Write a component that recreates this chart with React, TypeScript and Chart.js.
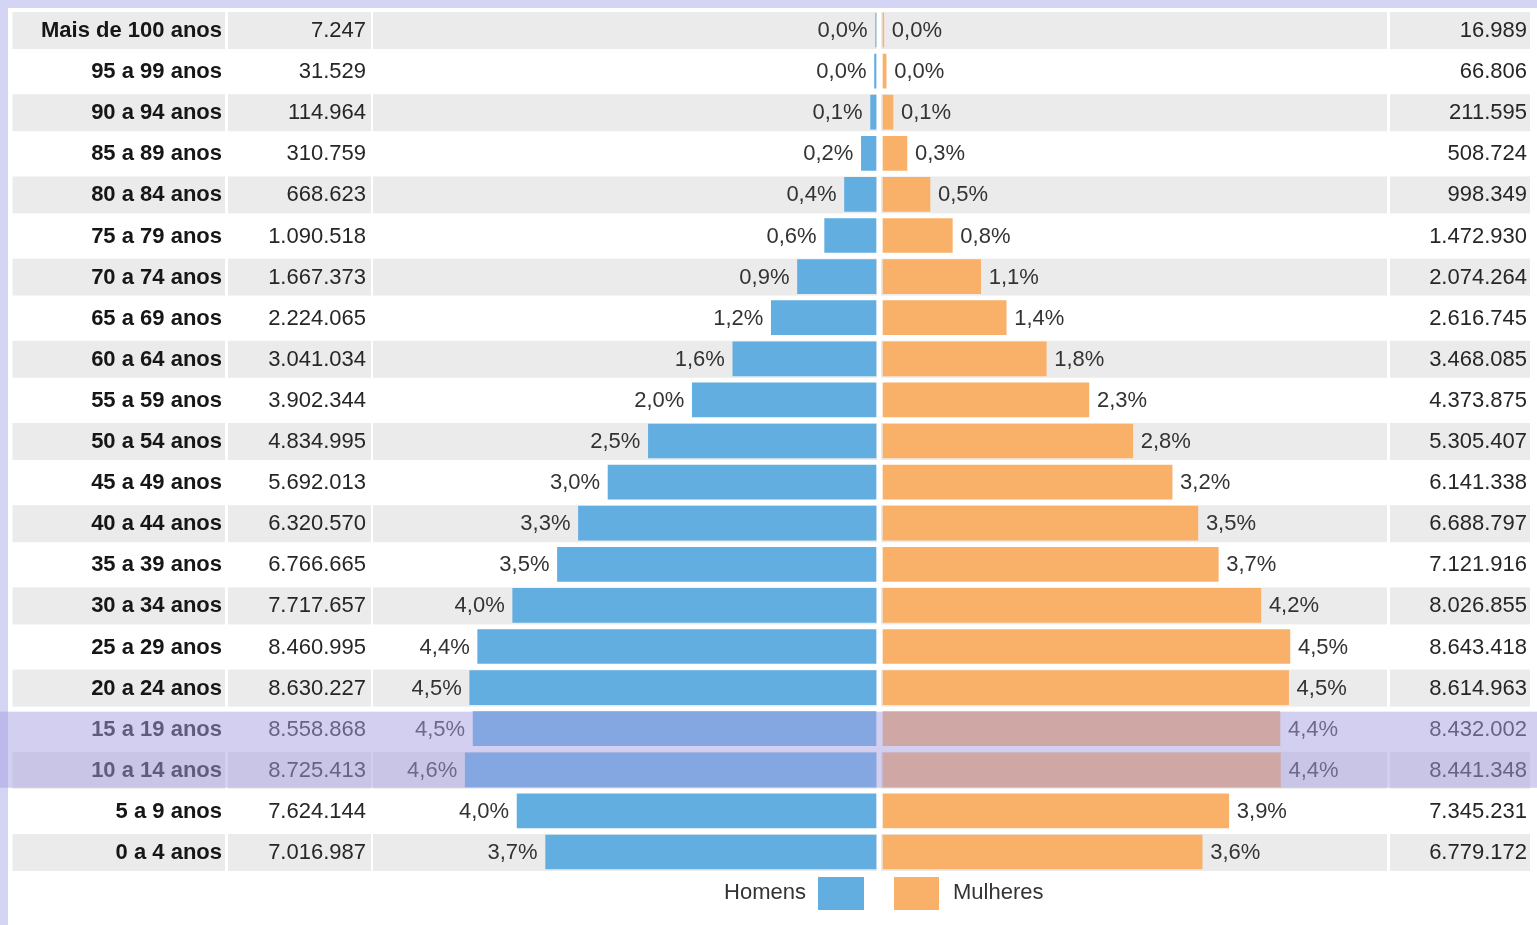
import React, { useEffect, useRef } from "react";
import { Chart, registerables } from "chart.js";

Chart.register(...registerables);

// ---------------- DATA ----------------
const ageGroups = [
  "Mais de 100 anos",
  "95 a 99 anos",
  "90 a 94 anos",
  "85 a 89 anos",
  "80 a 84 anos",
  "75 a 79 anos",
  "70 a 74 anos",
  "65 a 69 anos",
  "60 a 64 anos",
  "55 a 59 anos",
  "50 a 54 anos",
  "45 a 49 anos",
  "40 a 44 anos",
  "35 a 39 anos",
  "30 a 34 anos",
  "25 a 29 anos",
  "20 a 24 anos",
  "15 a 19 anos",
  "10 a 14 anos",
  "5 a 9 anos",
  "0 a 4 anos",
];

const menPopulation = [
  7247, 31529, 114964, 310759, 668623, 1090518, 1667373, 2224065, 3041034,
  3902344, 4834995, 5692013, 6320570, 6766665, 7717657, 8460995, 8630227,
  8558868, 8725413, 7624144, 7016987,
];

const womenPopulation = [
  16989, 66806, 211595, 508724, 998349, 1472930, 2074264, 2616745, 3468085,
  4373875, 5305407, 6141338, 6688797, 7121916, 8026855, 8643418, 8614963,
  8432002, 8441348, 7345231, 6779172,
];

const menPercent = [
  0.0038, 0.0165, 0.0603, 0.1629, 0.3505, 0.5717, 0.8741, 1.1659, 1.5942,
  2.0457, 2.5347, 2.9839, 3.3135, 3.5473, 4.0458, 4.4355, 4.5243, 4.4868,
  4.5741, 3.9968, 3.6785,
];

const womenPercent = [
  0.0089, 0.035, 0.1109, 0.2667, 0.5234, 0.7722, 1.0874, 1.3718, 1.8181,
  2.293, 2.7813, 3.2195, 3.5065, 3.7336, 4.208, 4.5312, 4.5163, 4.4204,
  4.4253, 3.8506, 3.5539,
];

const highlightedGroups = ["15 a 19 anos", "10 a 14 anos"];
const seriesLabels = ["Homens", "Mulheres"];

// ---------------- LAYOUT / STYLE ----------------
const W = 1537;
const H = 925;
const PAGE_MARGIN = 8;
const AREA_LEFT = 373;
const AREA_RIGHT = 1387;
const AREA_TOP = 9.45;
const AREA_BOTTOM = 872.55;
const MEN_ZERO = 876;
const WOMEN_ZERO = 883;
const PX_PER_PCT = 89.8;
const BAR_THICKNESS = 34;

const COLS = {
  age: [12.5, 225],
  menPop: [228, 371],
  barL: [373, 877],
  barR: [881, 1387],
  womenPop: [1390, 1530],
};

const COLOR_MEN = "#62aee0";
const COLOR_WOMEN = "#f9b068";
const COLOR_GRAY = "#ebebeb";
const COLOR_PAGE = "#d4d4f4";
const COLOR_OVERLAY = "rgba(165,160,226,0.5)";
const FONT_FAMILY = '"Liberation Sans", Arial, sans-serif';

const fmtInt = (n: number) =>
  String(n).replace(/\B(?=(\d{3})+(?!\d))/g, ".");
const fmtPct = (v: number) => v.toFixed(1).replace(".", ",") + "%";

const tablePlugin = {
  id: "populationTable",
  beforeDraw(chart: any) {
    const ctx = chart.ctx as CanvasRenderingContext2D;
    const y = chart.scales.y;
    ctx.save();
    ctx.fillStyle = COLOR_PAGE;
    ctx.fillRect(0, 0, W, H);
    ctx.fillStyle = "#ffffff";
    ctx.fillRect(PAGE_MARGIN, PAGE_MARGIN, W - PAGE_MARGIN, H - PAGE_MARGIN);
    ctx.fillStyle = COLOR_GRAY;
    ageGroups.forEach((_, i) => {
      if (i % 2 !== 0) return;
      const cy = y.getPixelForValue(i);
      Object.values(COLS).forEach(([x0, x1]) => {
        ctx.fillRect(x0, cy - 18, x1 - x0, 37);
      });
    });
    ctx.restore();
  },
  afterDatasetsDraw(chart: any) {
    const ctx = chart.ctx as CanvasRenderingContext2D;
    const y = chart.scales.y;
    ctx.save();
    ctx.textBaseline = "middle";

    // percentage labels next to bars
    ctx.font = `22px ${FONT_FAMILY}`;
    ctx.fillStyle = "#333333";
    const menMeta = chart.getDatasetMeta(0);
    const womenMeta = chart.getDatasetMeta(1);
    ageGroups.forEach((_, i) => {
      const cy = y.getPixelForValue(i) + 1;
      const mEl = menMeta.data[i];
      const wEl = womenMeta.data[i];
      ctx.textAlign = "right";
      ctx.fillText(fmtPct(menPercent[i]), mEl.x - 8, cy);
      ctx.textAlign = "left";
      ctx.fillText(fmtPct(womenPercent[i]), wEl.x + 8, cy);
    });

    // table text
    ageGroups.forEach((label, i) => {
      const cy = y.getPixelForValue(i) + 1;
      ctx.textAlign = "right";
      ctx.font = `bold 22px ${FONT_FAMILY}`;
      ctx.fillStyle = "#161616";
      ctx.fillText(label, COLS.age[1] - 3, cy);
      ctx.font = `22px ${FONT_FAMILY}`;
      ctx.fillStyle = "#262626";
      ctx.fillText(fmtInt(menPopulation[i]), COLS.menPop[1] - 5, cy);
      ctx.fillText(fmtInt(womenPopulation[i]), COLS.womenPop[1] - 3, cy);
    });

    // legend
    const ds = chart.data.datasets;
    const ly = 893;
    ctx.font = `22px ${FONT_FAMILY}`;
    ctx.fillStyle = "#333333";
    ctx.textAlign = "right";
    ctx.fillText(ds[0].label, 806, ly);
    ctx.fillStyle = ds[0].backgroundColor;
    ctx.fillRect(818, 877, 46, 33);
    ctx.fillStyle = ds[1].backgroundColor;
    ctx.fillRect(894, 877, 45, 33);
    ctx.fillStyle = "#333333";
    ctx.textAlign = "left";
    ctx.fillText(ds[1].label, 953, ly);
    ctx.restore();
  },
  afterDraw(chart: any) {
    const ctx = chart.ctx as CanvasRenderingContext2D;
    const y = chart.scales.y;
    const idx = highlightedGroups.map((g) => ageGroups.indexOf(g));
    const top = y.getPixelForValue(Math.min(...idx)) - BAR_THICKNESS / 2;
    const bottom = y.getPixelForValue(Math.max(...idx)) + BAR_THICKNESS / 2 + 1;
    ctx.save();
    ctx.fillStyle = COLOR_OVERLAY;
    ctx.fillRect(0, top, W, bottom - top);
    ctx.restore();
  },
};

export default function App() {
  const ref = useRef<HTMLCanvasElement>(null);

  useEffect(() => {
    if (!ref.current) return;
    const chart = new Chart(ref.current, {
      type: "bar",
      data: {
        labels: ageGroups,
        datasets: [
          {
            label: seriesLabels[0],
            data: menPercent.map((v) => -v),
            xAxisID: "xm",
            backgroundColor: COLOR_MEN,
            borderWidth: 0,
            barThickness: BAR_THICKNESS,
            grouped: false,
          } as any,
          {
            label: seriesLabels[1],
            data: womenPercent,
            xAxisID: "xw",
            backgroundColor: COLOR_WOMEN,
            borderWidth: 0,
            barThickness: BAR_THICKNESS,
            grouped: false,
          } as any,
        ],
      },
      options: {
        indexAxis: "y",
        responsive: false,
        animation: false,
        devicePixelRatio: 1,
        events: [],
        layout: {
          padding: {
            left: AREA_LEFT,
            right: W - AREA_RIGHT,
            top: AREA_TOP,
            bottom: H - AREA_BOTTOM,
          },
        },
        plugins: {
          legend: { display: false },
          tooltip: { enabled: false },
          title: { display: false },
        },
        scales: {
          y: { type: "category", display: false, offset: true },
          xm: {
            type: "linear",
            axis: "x",
            display: false,
            min: -(MEN_ZERO - AREA_LEFT) / PX_PER_PCT,
            max: (AREA_RIGHT - MEN_ZERO) / PX_PER_PCT,
          },
          xw: {
            type: "linear",
            axis: "x",
            display: false,
            min: -(WOMEN_ZERO - AREA_LEFT) / PX_PER_PCT,
            max: (AREA_RIGHT - WOMEN_ZERO) / PX_PER_PCT,
          },
        } as any,
      },
      plugins: [tablePlugin],
    });
    return () => chart.destroy();
  }, []);

  return (
    <div style={{ position: "fixed", left: 0, top: 0, width: W, height: H }}>
      <canvas
        ref={ref}
        width={W}
        height={H}
        style={{ display: "block", width: W, height: H }}
      />
    </div>
  );
}
